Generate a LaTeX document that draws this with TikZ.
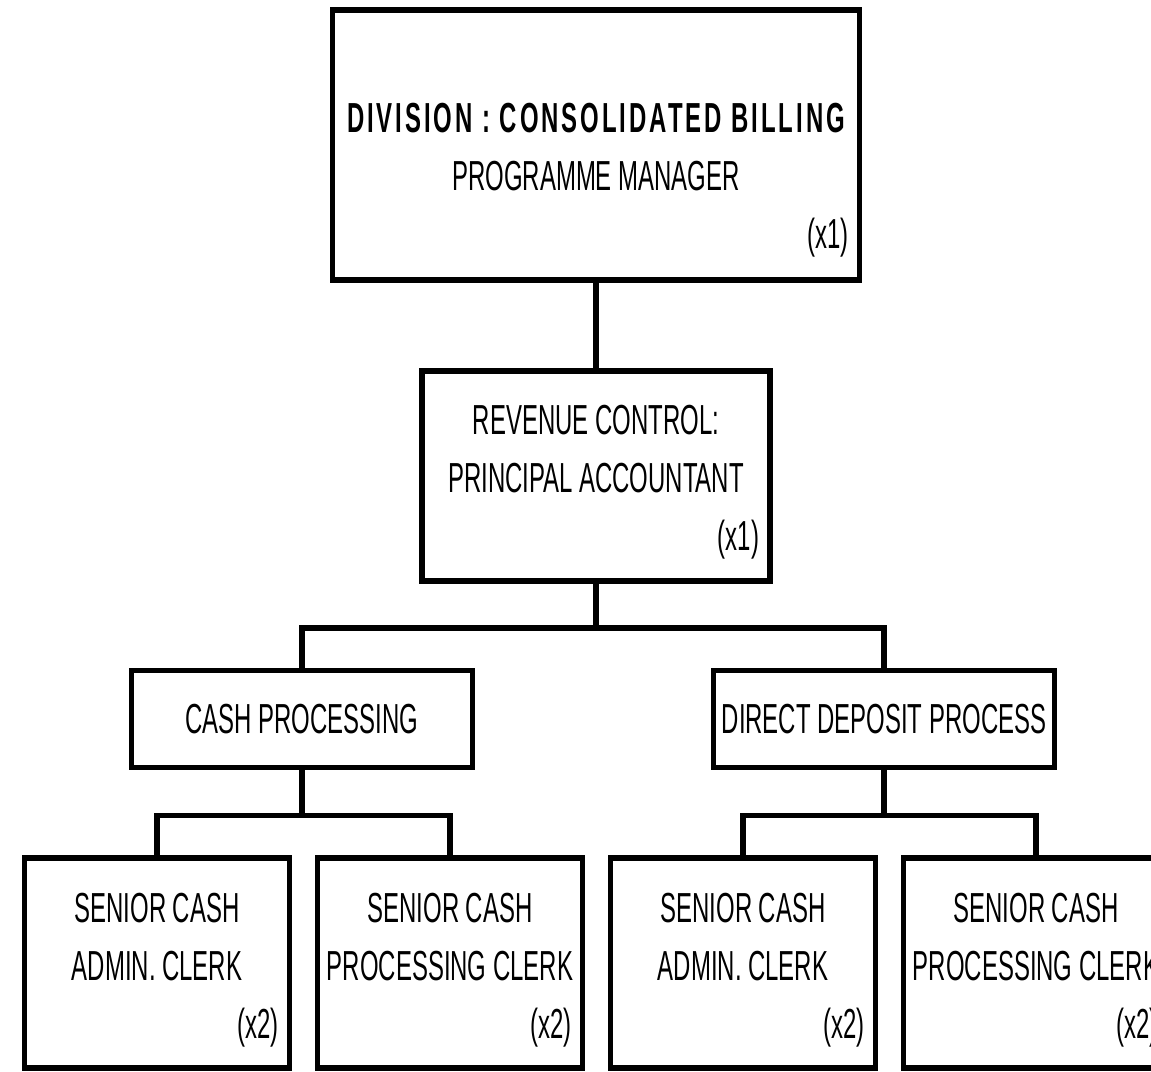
\documentclass[tikz,border=0pt]{standalone}
\usepackage{fontspec}
\newfontfamily\orgfont{Liberation Sans}[FakeStretch=0.57]
\usetikzlibrary{positioning, calc}

% width, first baseline, lines, head count, bottom room
\newcommand{\rolebox}[5]{%
    \parbox{#1}{\centering\rule{0pt}{#2}#3\\\hspace*{\fill}#4\hspace*{11pt}\rule[-#5]{0pt}{#5}}}

\begin{document}
\begin{tikzpicture}[x=1pt, y=-1pt,
                post/.style={rectangle, draw, line width=5.5pt, inner sep=0pt, outer sep=0pt, font=\orgfont\fontsize{42pt}{58pt}\selectfont},
                unit/.style={post, minimum width=341pt, minimum height=97pt},
                link/.style={draw, line width=5.5pt}
            ]
            \useasboundingbox (0,0) rectangle (1151,1071);

            \node (pm) at (596,145) [post] {\rolebox{527pt}{122pt}{{\bfseries\addfontfeature{LetterSpace=7}DIVISION : CONSOLIDATED BILLING}\\PROGRAMME MANAGER}{(x1)}{32pt}};

            \node (revctrl) [post, below=91pt of pm] {\rolebox{348pt}{63pt}{REVENUE CONTROL:\\PRINCIPAL ACCOUNTANT}{(x1)}{31pt}};
            \coordinate (revfork) at ($(revctrl.south)+(0,47)$);

            \node (cash) at (302,719) [unit] {CASH PROCESSING};
            \node (deposit) [unit, right=241pt of cash] {DIRECT DEPOSIT PROCESS};
            \coordinate (cashfork) at ($(cash.south)+(0,48)$);
            \coordinate (depfork) at ($(deposit.south)+(0,48)$);

            \node (cashadmin) at (157,963) [post] {\rolebox{265pt}{64pt}{SENIOR CASH\\ADMIN. CLERK}{(x2)}{30pt}};
            \node (cashproc) [post, right=28pt of cashadmin] {\rolebox{265pt}{64pt}{SENIOR CASH\\PROCESSING CLERK}{(x2)}{30pt}};
            \node (depadmin) [post, right=28pt of cashproc] {\rolebox{265pt}{64pt}{SENIOR CASH\\ADMIN. CLERK}{(x2)}{30pt}};
            \node (depproc) [post, right=28pt of depadmin] {\rolebox{265pt}{64pt}{SENIOR CASH\\PROCESSING CLERK}{(x2)}{30pt}};

            \draw[link] (pm) -- (revctrl);
            \draw[link] (revctrl) -- (revfork);
            \draw[link] (cash) |- (revfork) -| (deposit);
            \draw[link] (cash) -- (cashfork);
            \draw[link] (cashadmin) |- (cashfork) -| (cashproc);
            \draw[link] (deposit) -- (depfork);
            \draw[link] (depadmin) |- (depfork) -| (depproc);
        \end{tikzpicture}
\end{document}
